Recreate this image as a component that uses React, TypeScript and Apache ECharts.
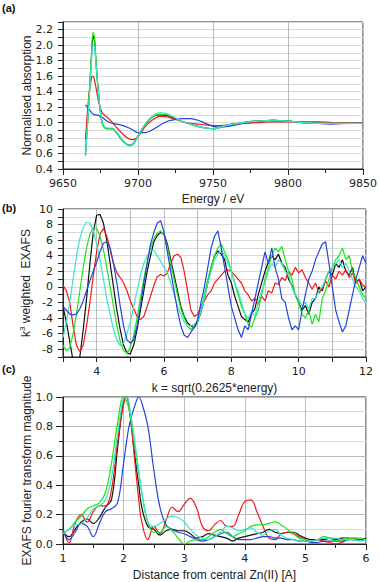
import React, { useEffect, useRef } from "react";
import * as echarts from "echarts";

// ---------- Panel (a): XANES ----------
const energy = [9665, 9667, 9669, 9670, 9671, 9672, 9674, 9676, 9678, 9680, 9683, 9686, 9690, 9694, 9697, 9700, 9705, 9710, 9715, 9720, 9725, 9730, 9735, 9740, 9745, 9750, 9755, 9760, 9770, 9780, 9790, 9800, 9810, 9820, 9830, 9840, 9850];
const absBlack = [0.6, 1.2, 1.85, 2.12, 2.05, 1.78, 1.3, 1.0, 0.93, 0.92, 0.92, 0.86, 0.76, 0.71, 0.73, 0.83, 0.98, 1.08, 1.1, 1.09, 1.05, 1.01, 0.98, 0.95, 0.93, 0.92, 0.94, 0.97, 1.0, 1.02, 1.03, 1.02, 1.0, 0.99, 0.99, 0.99, 0.99];
const absRed = [0.78, 1.3, 1.58, 1.6, 1.55, 1.45, 1.25, 1.13, 1.09, 1.06, 1.0, 0.93, 0.85, 0.79, 0.78, 0.82, 0.95, 1.04, 1.08, 1.07, 1.04, 1.01, 0.99, 0.98, 0.97, 0.96, 0.96, 0.97, 0.99, 1.0, 1.01, 1.01, 1.01, 1.01, 1.0, 1.0, 1.0];
const absBlue = [1.23, 1.18, 1.13, 1.11, 1.1, 1.1, 1.09, 1.07, 1.04, 1.01, 0.99, 0.98, 0.96, 0.93, 0.9, 0.87, 0.87, 0.91, 0.97, 1.02, 1.04, 1.05, 1.05, 1.03, 0.99, 0.95, 0.94, 0.95, 0.99, 1.02, 1.03, 1.02, 1.0, 0.99, 0.98, 0.99, 0.99];
const absGreen = [0.57, 1.2, 1.9, 2.17, 2.1, 1.8, 1.3, 1.0, 0.93, 0.92, 0.92, 0.86, 0.76, 0.7, 0.72, 0.82, 0.98, 1.08, 1.11, 1.1, 1.06, 1.01, 0.98, 0.95, 0.93, 0.92, 0.94, 0.97, 1.0, 1.02, 1.03, 1.02, 1.0, 0.99, 0.99, 0.99, 0.99];
const absCyan = [0.6, 1.15, 1.8, 2.0, 1.98, 1.75, 1.3, 1.02, 0.94, 0.93, 0.93, 0.87, 0.77, 0.71, 0.73, 0.83, 0.99, 1.09, 1.13, 1.11, 1.06, 1.01, 0.98, 0.95, 0.93, 0.92, 0.94, 0.97, 1.0, 1.02, 1.03, 1.02, 1.0, 0.99, 0.99, 0.99, 0.99];

// ---------- Panel (b): k^3 weighted EXAFS ----------
const kVals = [3.0, 3.1, 3.2, 3.3, 3.4, 3.5, 3.6, 3.7, 3.8, 3.9, 4.0, 4.1, 4.2, 4.3, 4.4, 4.5, 4.6, 4.7, 4.8, 4.9, 5.0, 5.1, 5.2, 5.3, 5.4, 5.5, 5.6, 5.7, 5.8, 5.9, 6.0, 6.1, 6.2, 6.3, 6.4, 6.5, 6.6, 6.7, 6.8, 6.9, 7.0, 7.1, 7.2, 7.3, 7.4, 7.5, 7.6, 7.7, 7.8, 7.9, 8.0, 8.1, 8.2, 8.3, 8.4, 8.5, 8.6, 8.7, 8.8, 8.9, 9.0, 9.1, 9.2, 9.3, 9.4, 9.5, 9.6, 9.7, 9.8, 9.9, 10.0, 10.1, 10.2, 10.3, 10.4, 10.5, 10.6, 10.7, 10.8, 10.9, 11.0, 11.1, 11.2, 11.3, 11.4, 11.5, 11.6, 11.7, 11.8, 11.9, 12.0];
const exBlack = [-2.5, -4.5, -7, -9.5, -10, -9, -5.5, -1.5, 3, 7, 9.2, 9.3, 8.2, 6, 3, 0, -3, -5.5, -7.5, -8.5, -8.6, -7.5, -5.5, -3, -0.5, 2, 4, 5.8, 6.6, 7, 6.8, 5.5, 3.5, 1.5, -0.5, -2.5, -3.8, -4.6, -5, -5.2, -4.5, -3.2, -1.5, 0.5, 2.5, 4, 4.6, 4.2, 3.5, 1.5, 0.5, -1.2, -2.5, -3.8, -4.2, -4.5, -3.5, -2.8, -1, 0.5, 2, 3.2, 4, 3.5, 4.2, 3, 2.5, 1, 0.2, -1, -2, -3, -2.4, -3.5, -2, -1.5, 0, -0.5, 1, 2, 1.5, 3, 2.5, 3.5, 2, 1.5, 2.5, 0.5, 1, -0.5, 0];
const exRed = [0.2, -0.5, -2, -5, -7.5, -8.3, -7.5, -5, -2, 1.5, 4.5, 6.8, 7.5, 6.5, 4.8, 3, 1.8, 1.2, 0.5, -0.5, -1.8, -2.8, -3.8, -4.2, -3.8, -2.5, -1.2, 0.2, 1.3, 1.6, 1.4, 1.8, 3, 4, 4.2, 3.8, 2, -0.5, -3, -3.8, -3.5, -2.5, -1.8, -1, -0.5, 0.5, 1, 1.5, 2, 2.2, 2, 1.5, 1, 0.5, -0.5, -1, -1.8, -1.5, -2.2, -1.2, -1.8, -0.5, -0.8, 0.5, 0.3, 1.2, 0.8, 2, 1.5, 2.5, 1.8, 2.2, 1.2, 0.5, -0.3, 0.5, -0.8, -0.2, 0.8, 0, 1.5, 1, 2, 1.5, 2.2, 1.2, 1.8, 0.5, 1, 0.2, 0];
const exGreen = [-7.5, -8.2, -7.8, -6, -3.5, -0.5, 2.5, 5, 6.8, 7.6, 7.5, 6.5, 4.8, 2.5, 0, -2.5, -5, -7, -8.2, -8.5, -7.8, -6.2, -4, -1.5, 1, 3.2, 5, 6.2, 6.9, 7.2, 6.6, 5.2, 3, 1, -1, -2.8, -4, -5, -5.5, -5, -4.5, -3, -1, 1, 2.5, 4, 5, 5.5, 4.5, 3.5, 2, 0.5, -1, -2.5, -3.5, -4.8, -5.2, -4, -3, -1, 1, 2.5, 4, 5, 4.5, 5.2, 3.5, 2, 1, -1, -2, -3.5, -4, -3, -4.8, -3.5, -4.5, -1.5, -0.5, 1, 2.5, 3.5, 4, 5, 3.5, 4, 2, 1, 0, -1, -1.5];
const exCyan = [-6.5, -4.5, -2, 1, 4, 6.2, 7.6, 8.3, 8.2, 7.2, 5.5, 3.5, 1, -1.5, -3.5, -5.5, -6.8, -7.5, -7.2, -6, -4.5, -2.5, -0.5, 1.5, 3, 4, 4.6, 4.7, 4, 3.3, 2.5, 1.8, 0.5, -1, -2.5, -3.5, -4.5, -5, -5, -4.8, -4.5, -3, -1.5, 0.5, 2, 3.5, 4.2, 4.8, 4, 3, 2, 0.5, -0.5, -2, -3.5, -4, -3.2, -3.8, -2, -0.5, 0.5, 2, 3, 2.5, 3.5, 3, 2, 1.5, 0, -1, -1.5, -2.5, -2, -2.8, -1.5, -1.5, -0.5, 0, 1, 2, 2.5, 3, 3.5, 2.5, 3, 2, 1, 0, -0.5, -1.5, -2];
const exBlue = [-2.5, -3, -3.5, -3.6, -3.5, -2.8, -1.8, -0.5, 0.8, 2, 3.2, 4.5, 5.6, 5.8, 5, 3, 0.5, -2.5, -5, -6.8, -7.2, -6.8, -5, -2.5, 0.5, 3, 5.5, 7, 8.2, 8.5, 7, 4.5, 2, -0.5, -3, -5, -6.2, -6.5, -5.8, -5.2, -4.2, -2, 0, 2.5, 5, 6.5, 7.2, 5, 2.5, 0, -2.5, -4, -5.5, -6.5, -5, -5.5, -3.5, -1.5, 0.5, 2.5, 4.5, 3, 5, 2.5, 1, -1.5, -2, -4, -5.5, -5, -5.5, -3, -1, 1, 2, 3.5, 4.5, 5.5, 5.8, 3, 0, -3, -4.5, -5.8, -5, -3, -1, 1, 2.5, 4, 3];

// ---------- Panel (c): Fourier transform magnitude ----------
const rVals = [1.0, 1.1, 1.2, 1.3, 1.4, 1.5, 1.6, 1.7, 1.8, 1.9, 2.0, 2.05, 2.1, 2.2, 2.25, 2.3, 2.4, 2.5, 2.6, 2.7, 2.8, 2.9, 3.0, 3.1, 3.2, 3.3, 3.4, 3.5, 3.6, 3.7, 3.8, 3.9, 4.0, 4.1, 4.2, 4.3, 4.4, 4.5, 4.6, 4.7, 4.8, 4.9, 5.0, 5.1, 5.2, 5.3, 5.4, 5.5, 5.6, 5.7, 5.8, 5.9, 6.0];
const ftBlack = [0.08, 0.05, 0.1, 0.15, 0.17, 0.14, 0.18, 0.25, 0.3, 0.65, 0.98, 1.0, 0.9, 0.55, 0.4, 0.25, 0.12, 0.1, 0.06, 0.09, 0.1, 0.09, 0.09, 0.07, 0.04, 0.05, 0.07, 0.06, 0.05, 0.04, 0.02, 0.04, 0.05, 0.06, 0.07, 0.08, 0.1, 0.08, 0.07, 0.08, 0.08, 0.06, 0.04, 0.03, 0.03, 0.03, 0.04, 0.03, 0.04, 0.04, 0.03, 0.03, 0.04];
const ftRed = [0.1, 0.01, 0.14, 0.2, 0.15, 0.22, 0.26, 0.26, 0.37, 0.69, 0.95, 1.0, 0.9, 0.5, 0.3, 0.15, 0.03, 0.12, 0.07, 0.16, 0.25, 0.22, 0.27, 0.31, 0.25, 0.12, 0.09, 0.13, 0.16, 0.12, 0.12, 0.2, 0.29, 0.3, 0.22, 0.12, 0.04, 0.03, 0.07, 0.08, 0.07, 0.05, 0.03, 0.02, 0.03, 0.02, 0.01, 0.0, 0.01, 0.03, 0.04, 0.03, 0.03];
const ftBlue = [0.1, 0.03, 0.08, 0.14, 0.12, 0.05, 0.14, 0.22, 0.24, 0.28, 0.55, 0.7, 0.82, 0.96, 1.0, 0.96, 0.8, 0.5, 0.25, 0.13, 0.1, 0.08, 0.07, 0.05, 0.03, 0.02, 0.03, 0.05, 0.07, 0.08, 0.05, 0.03, 0.03, 0.03, 0.04, 0.05, 0.05, 0.04, 0.04, 0.03, 0.03, 0.02, 0.02, 0.01, 0.01, 0.02, 0.02, 0.02, 0.02, 0.03, 0.03, 0.03, 0.03];
const ftGreen = [0.07, 0.1, 0.15, 0.19, 0.24, 0.26, 0.28, 0.35, 0.55, 0.82, 1.0, 0.97, 0.9, 0.62, 0.48, 0.35, 0.15, 0.08, 0.08, 0.12, 0.09, 0.04, 0.0, 0.02, 0.03, 0.03, 0.05, 0.08, 0.1, 0.07, 0.05, 0.07, 0.09, 0.12, 0.13, 0.13, 0.14, 0.15, 0.13, 0.1, 0.07, 0.04, 0.03, 0.02, 0.03, 0.05, 0.04, 0.02, 0.03, 0.04, 0.04, 0.04, 0.03];
const ftCyan = [0.07, 0.1, 0.13, 0.14, 0.18, 0.24, 0.26, 0.3, 0.45, 0.75, 0.99, 1.0, 0.93, 0.65, 0.5, 0.35, 0.15, 0.12, 0.14, 0.17, 0.19, 0.18, 0.15, 0.1, 0.06, 0.04, 0.03, 0.05, 0.08, 0.12, 0.11, 0.09, 0.1, 0.11, 0.08, 0.06, 0.09, 0.1, 0.06, 0.04, 0.03, 0.02, 0.02, 0.02, 0.03, 0.04, 0.04, 0.04, 0.03, 0.03, 0.03, 0.02, 0.03];

const FONT = "'Liberation Sans', Arial, sans-serif";
const TICK_FONT = "'DejaVu Sans', sans-serif";
const C_BLACK = "#111111";
const C_RED = "#f01818";
const C_BLUE = "#2446dc";
const C_GREEN = "#18e818";
const C_CYAN = "#38e4cc";
const GRID_MAJOR = "#b9bdbd";
const GRID_MINOR = "#d8dbdb";

function pairs(xs: number[], ys: number[]) {
  return xs.map((x, i) => [x, ys[i]]);
}

export default function App() {
  const ref = useRef<HTMLDivElement>(null);
  useEffect(() => {
    if (!ref.current) return;
    const chart = echarts.init(ref.current, undefined, { renderer: "svg" });

    const common = {
      axisLine: { show: true, onZero: false, lineStyle: { color: "#222", width: 1 } },
      axisTick: { show: true, length: 6, lineStyle: { color: "#222" } },
      axisLabel: { color: "#222", fontSize: 11, fontFamily: TICK_FONT, margin: 9 },
      nameTextStyle: { color: "#222", fontSize: 12, fontFamily: FONT },
      nameLocation: "middle" as const,
      nameMoveOverlap: false,
    };
    const minor = { show: true, splitNumber: 2, length: 4, lineStyle: { color: "#222" } };
    const gridBase = { left: 63, right: 14, show: true, borderColor: "#222", borderWidth: 1, backgroundColor: "transparent" };

    const line = (name: string, color: string, data: number[][], xi: number, smooth: number | boolean) => ({
      type: "line",
      name,
      xAxisIndex: xi,
      yAxisIndex: xi,
      data,
      symbol: "none",
      smooth,
      lineStyle: { color, width: 1.2 },
      itemStyle: { color },
    });

    const evenLabel = (v: number) => (Math.round(v) % 2 === 0 ? String(Math.round(v)) : "");

    chart.setOption({
      animation: false,
      textStyle: { fontFamily: FONT },
      grid: [
        { ...gridBase, top: 22, height: 147 },
        { ...gridBase, top: 209, height: 148 },
        { ...gridBase, top: 397, height: 148 },
      ],
      xAxis: [
        {
          ...common,
          type: "value",
          gridIndex: 0,
          min: 9650,
          max: 9850,
          interval: 50,
          axisLabel: { ...common.axisLabel, formatter: (v: number) => String(Math.round(v)) },
          minorTick: minor,
          splitLine: { show: true, lineStyle: { color: GRID_MAJOR } },
          name: "Energy / eV",
          nameGap: 24,
        },
        {
          ...common,
          type: "value",
          gridIndex: 1,
          min: 3,
          max: 12,
          interval: 1,
          axisTick: { ...common.axisTick, length: 5 },
          axisLabel: { ...common.axisLabel, formatter: evenLabel },
          splitLine: { show: true, lineStyle: { color: GRID_MAJOR } },
          name: "k = sqrt(0.2625*energy)",
          nameGap: 25,
        },
        {
          ...common,
          type: "value",
          gridIndex: 2,
          min: 1,
          max: 6,
          interval: 1,
          minorTick: minor,
          splitLine: { show: true, lineStyle: { color: GRID_MAJOR } },
          name: "Distance from central Zn(II) [A]",
          nameGap: 25,
        },
      ],
      yAxis: [
        {
          ...common,
          type: "value",
          gridIndex: 0,
          min: 0.4,
          max: 2.3,
          interval: 0.1,
          axisTick: { ...common.axisTick, length: 5 },
          axisLabel: {
            ...common.axisLabel,
            margin: 10,
            formatter: (v: number) => {
              const t = Math.round(v * 10);
              return t % 2 === 0 && t <= 22 ? (t / 10).toFixed(1) : "";
            },
          },
          splitLine: { show: true, lineStyle: { color: GRID_MINOR } },
          name: "Normalised absorption",
          nameGap: 30,
        },
        {
          ...common,
          type: "value",
          gridIndex: 1,
          min: -9,
          max: 10,
          interval: 1,
          axisTick: { ...common.axisTick, length: 5 },
          axisLabel: { ...common.axisLabel, margin: 10, formatter: evenLabel },
          splitLine: { show: true, lineStyle: { color: GRID_MINOR } },
          name: "{a|k}{s|3}{a| weighted  EXAFS}",
          nameGap: 30,
          nameTextStyle: {
            ...common.nameTextStyle,
            rich: {
              a: { fontSize: 12, fontFamily: FONT, color: "#222", lineHeight: 15 },
              s: { fontSize: 8, fontFamily: FONT, color: "#222", lineHeight: 15, verticalAlign: "top" },
            },
          },
        },
        {
          ...common,
          type: "value",
          gridIndex: 2,
          min: 0,
          max: 1,
          interval: 0.2,
          axisTick: { ...common.axisTick, length: 7 },
          axisLabel: { ...common.axisLabel, margin: 10, formatter: (v: number) => v.toFixed(1) },
          minorTick: minor,
          splitLine: { show: true, lineStyle: { color: GRID_MAJOR } },
          minorSplitLine: { show: true, lineStyle: { color: GRID_MINOR } },
          name: "EXAFS fourier transform magnitude",
          nameGap: 30,
        },
      ],
      graphic: [
        { type: "text", left: 2, top: 2, style: { text: "(a)", font: `bold 11px ${FONT}`, fill: "#111" } },
        { type: "text", left: 2, top: 202, style: { text: "(b)", font: `bold 11px ${FONT}`, fill: "#111" } },
        { type: "text", left: 2, top: 363, style: { text: "(c)", font: `bold 11px ${FONT}`, fill: "#111" } },
      ],
      series: [
        line("black", C_BLACK, pairs(energy, absBlack), 0, 0.3),
        line("red", C_RED, pairs(energy, absRed), 0, 0.3),
        line("blue", C_BLUE, pairs(energy, absBlue), 0, 0.3),
        line("green", C_GREEN, pairs(energy, absGreen), 0, 0.3),
        line("cyan", C_CYAN, pairs(energy, absCyan), 0, 0.3),

        line("black", C_BLACK, pairs(kVals, exBlack), 1, false),
        line("red", C_RED, pairs(kVals, exRed), 1, false),
        line("green", C_GREEN, pairs(kVals, exGreen), 1, false),
        line("cyan", C_CYAN, pairs(kVals, exCyan), 1, false),
        line("blue", C_BLUE, pairs(kVals, exBlue), 1, false),

        line("black", C_BLACK, pairs(rVals, ftBlack), 2, 0.4),
        line("red", C_RED, pairs(rVals, ftRed), 2, 0.4),
        line("blue", C_BLUE, pairs(rVals, ftBlue), 2, 0.4),
        line("green", C_GREEN, pairs(rVals, ftGreen), 2, 0.4),
        line("cyan", C_CYAN, pairs(rVals, ftCyan), 2, 0.4),
      ],
    });
    return () => chart.dispose();
  }, []);
  return (
    <div
      ref={ref}
      style={{ position: "fixed", left: 0, top: 0, width: 380, height: 582, background: "#fff" }}
    />
  );
}
